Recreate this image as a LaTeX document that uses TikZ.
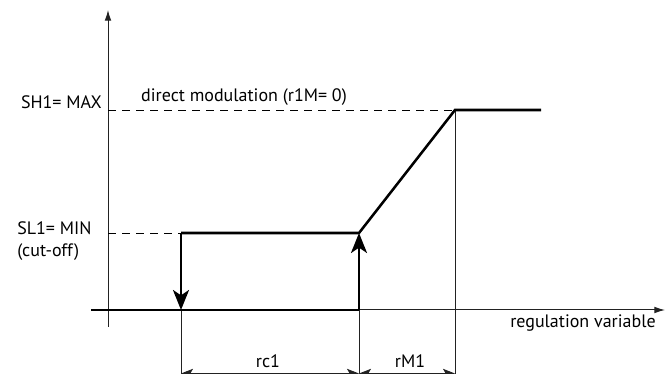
\documentclass[tikz,border=0pt]{standalone}
\usepackage{fontspec}
\setmainfont{PT Sans}
\usepackage{tikz}
\usetikzlibrary{arrows.meta, positioning, calc}
\definecolor{axisgray}{HTML}{222222}
\tikzset{
  thinline/.style={line width=0.75pt, draw=axisgray},
  thickline/.style={line width=1.9pt, draw=black},
  guideline/.style={line width=0.6pt, draw=black, dash pattern=on 6pt off 4.5pt},
  bigtip/.style={-{Stealth[length=15pt, width=12pt, inset=4pt]}},
  lbl/.style={font=\fontsize{13.5}{16}\selectfont, inner sep=0pt}
}
\newcommand{\dimarrow}[2]{%
  \draw[thinline, {Stealth[length=9pt, width=7pt, inset=2pt]}-{Stealth[length=9pt, width=7pt, inset=2pt]}] (#1) -- (#2);%
}

\begin{document}
\begin{tikzpicture}[x=0.75pt, y=-0.75pt]
    \useasboundingbox (0,0) rectangle (672,374);
    % Key points
    \coordinate (yb) at (108,327);
    \coordinate (yt) at (108,10);
    \coordinate (xl) at (91,310);
    \coordinate (xr) at (665,310);
    \coordinate (off) at (181,310);
    \coordinate (on) at (359,310);
    \coordinate (mint) at (181,233);
    \coordinate (minr) at (359,233);
    \coordinate (maxl) at (455,110);
    \coordinate (maxr) at (541,110);
    \coordinate (ymin) at (108,233);
    \coordinate (ymax) at (108,110);
    \coordinate (d1) at (181,373.5);
    \coordinate (d2) at (359,373.5);
    \coordinate (d3) at (455,373.5);

    % Axes
    \draw[thinline, -{Latex[length=8pt, width=5pt]}] (yb) -- (yt);
    \draw[thinline, -{Latex[length=8pt, width=5pt]}] (xl) -- (xr);

    % Guide lines
    \draw[guideline] (ymax) -- (maxl);
    \draw[guideline] (ymin) -- (mint);
    \draw[thinline] (maxl) -- (maxl |- 0,374);
    \draw[thinline] (off) -- (off |- 0,374);
    \draw[thinline] (on) -- (on |- 0,374);

    % Characteristic
    \draw[thickline] (xl) -- (on);
    \draw[thickline] (mint) -- (minr) -- (maxl) -- (maxr);
    \draw[thickline, bigtip] (mint) -- (off);
    \draw[thickline, bigtip] (on) -- (minr);

    % Dimensions
    \dimarrow{d1}{d2}
    \dimarrow{d2}{d3}

    % Labels
    \node[lbl, anchor=east] (lmax) at (102,102) {SH1= MAX};
    \node[lbl] (ldir) at (244,97) {direct modulation (r1M= 0)};
    \node[lbl, anchor=west, align=left] (lmin) at (17,241) {SL1= MIN\\(cut-off)};
    \node[lbl] (lrc) at (268,361) {rc1};
    \node[lbl] (lrm) at (410,361) {rM1};
    \node[lbl] (lvar) at (583,323) {regulation variable};
  \end{tikzpicture}
\end{document}
